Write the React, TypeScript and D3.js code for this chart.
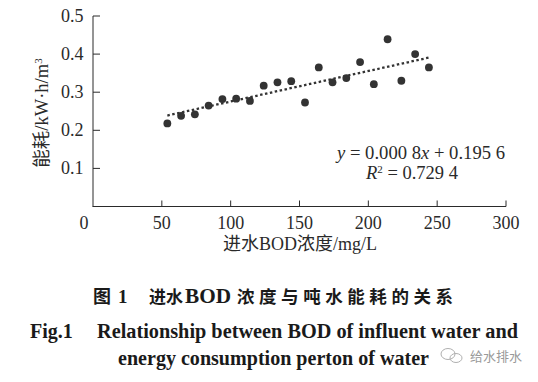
import React from "react";
import * as d3 from "d3";

const bod = [54, 64, 74, 84, 94, 104, 114, 124, 134, 144, 154, 164, 174, 184, 194, 204, 214, 224, 234, 244];
const energy = [0.218, 0.238, 0.242, 0.265, 0.282, 0.283, 0.277, 0.317, 0.326, 0.329, 0.273, 0.365, 0.326, 0.337, 0.379, 0.321, 0.439, 0.33, 0.4, 0.365];
const xTicks = [0, 50, 100, 150, 200, 250, 300];
const yTicks = [0.1, 0.2, 0.3, 0.4, 0.5];
const slope = 0.0008;
const intercept = 0.1956;

const W = 538;
const H = 382;
const serif = "'Liberation Serif', 'Noto Sans CJK SC', serif";
const cjk = "'Noto Sans CJK SC', sans-serif";
const ink = "#2a2a2a";

export default function App() {
  const x = d3.scaleLinear().domain([0, 300]).range([93, 506]);
  const y = d3.scaleLinear().domain([0, 0.5]).range([206.5, 16]);
  const pts = bod.map((b, i) => ({ b, e: energy[i] }));
  const x0 = d3.min(bod) as number;
  const x1 = d3.max(bod) as number;
  const trend = d3.line<number>().x((v) => x(v)).y((v) => y(slope * v + intercept));

  return (
    <svg width={W} height={H} style={{ position: "absolute", left: 0, top: 0, background: "#fff" }} fontFamily={serif}>
      <rect x={0} y={0} width={W} height={H} fill="#fff" />
      {/* axes */}
      <line x1={x(0) - 0.5} x2={x(300)} y1={y(0)} y2={y(0)} stroke={ink} strokeWidth={1} />
      <line x1={x(0)} x2={x(0)} y1={y(0)} y2={y(0.5)} stroke={ink} strokeWidth={1} />
      {xTicks.map((t) => (
        <g key={"xt" + t}>
          {t > 0 && <line x1={x(t)} x2={x(t)} y1={y(0)} y2={y(0) - 6} stroke={ink} />}
          <text x={t === 0 ? x(t) - 9 : x(t)} y={228.5} textAnchor="middle" fontSize={18} fill={ink}>
            {t}
          </text>
        </g>
      ))}
      {yTicks.map((t) => (
        <g key={"yt" + t}>
          <line x1={x(0)} x2={x(0) + 7} y1={y(t)} y2={y(t)} stroke={ink} />
          <text x={83.5} y={y(t) + 6} textAnchor="end" fontSize={18} fill={ink}>
            {t.toFixed(1)}
          </text>
        </g>
      ))}
      {/* axis titles */}
      <text x={300} y={250} textAnchor="middle" fontSize={18} fill={ink}>
        进水BOD浓度/mg/L
      </text>
      <text transform="translate(48,113) rotate(-90)" textAnchor="middle" fontSize={18.5} fill={ink}>
        能耗/kW·h/m<tspan baselineShift="super" fontSize={11}>3</tspan>
      </text>
      {/* trend line */}
      <path d={trend([x0, x1]) as string} fill="none" stroke="#333" strokeWidth={2.3} strokeDasharray="2.5,2.5" />
      {/* points */}
      {pts.map((p, i) => (
        <circle key={i} cx={x(p.b)} cy={y(p.e)} r={3.9} fill="#333" />
      ))}
      {/* equation */}
      <text x={337} y={159} fontSize={18.5} fill={ink} textLength={168} lengthAdjust="spacingAndGlyphs">
        <tspan fontStyle="italic">y</tspan> = 0.000 8<tspan fontStyle="italic">x</tspan> + 0.195 6
      </text>
      <text x={366} y={179} fontSize={18.5} fill={ink}>
        <tspan fontStyle="italic">R</tspan>
        <tspan baselineShift="super" fontSize={11}>2</tspan> = 0.729 4
      </text>
      {/* captions */}
      <text x={93} y={303} fontSize={18} fontWeight="bold" fill="#1a1a1a" fontFamily={cjk}>
        图
      </text>
      <text x={118} y={303} fontSize={19} fontWeight="bold" fill="#1a1a1a">
        1
      </text>
      <text x={149} y={303} fontSize={17} fontWeight="bold" fill="#1a1a1a" fontFamily={cjk}>
        进水
      </text>
      <text x={185} y={303} fontSize={20} fontWeight="bold" fill="#1a1a1a" textLength={46} lengthAdjust="spacingAndGlyphs">
        BOD
      </text>
      <text x={237} y={303} fontSize={17.5} fontWeight="bold" fill="#1a1a1a" fontFamily={cjk} textLength={216} lengthAdjust="spacing">
        浓度与吨水能耗的关系
      </text>
      <text x={30} y={338} fontSize={20} fontWeight="bold" fill="#1a1a1a">
        Fig.1
      </text>
      <text x={97} y={338} fontSize={20} fontWeight="bold" fill="#1a1a1a" textLength={421} lengthAdjust="spacingAndGlyphs">
        Relationship between BOD of influent water and
      </text>
      <text x={118} y={365} fontSize={20} fontWeight="bold" fill="#1a1a1a" textLength={311} lengthAdjust="spacingAndGlyphs">
        energy consumption perton of water
      </text>
      {/* watermark */}
      <g stroke="#b0b0b0" fill="none" strokeWidth={1}>
        <ellipse cx={448} cy={354} rx={7} ry={5.5} />
        <ellipse cx={456} cy={358} rx={6} ry={4.5} />
      </g>
      <text x={470} y={361} fontSize={13} fill="#999" fontFamily={cjk} textLength={52} lengthAdjust="spacing">
        给水排水
      </text>
    </svg>
  );
}
